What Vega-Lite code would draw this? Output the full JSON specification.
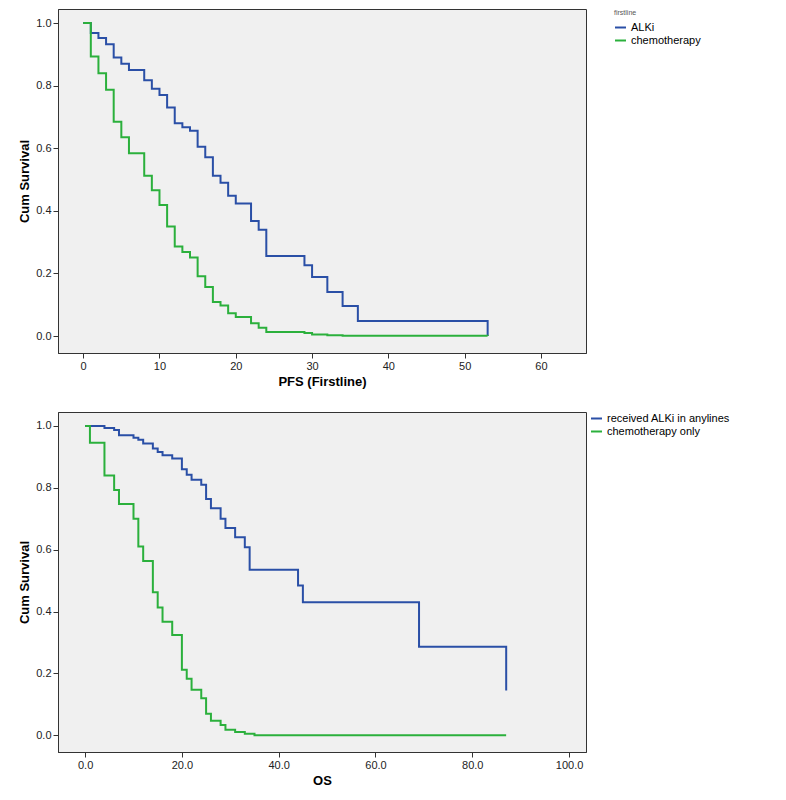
{
  "$schema": "https://vega.github.io/schema/vega-lite/v6.json",
  "padding": {"left": 18, "top": 8, "right": 0, "bottom": 0},
  "spacing": 22,
  "resolve": {"legend": {"color": "independent"}, "scale": {"color": "independent"}},
  "config": {
    "font": "Liberation Sans",
    "view": {"fill": "#f0f0f0", "stroke": "#333333"},
    "axis": {"grid": false, "labelFontSize": 11, "labelColor": "#222", "titleFontSize": 13, "titleFontWeight": "bold", "tickColor": "#333", "domainColor": "#333"},
    "legend": {"labelFontSize": 11, "symbolType": "stroke", "symbolStrokeWidth": 2, "symbolSize": 120, "rowPadding": 1, "padding": 0, "titleFontSize": 7, "titleFontWeight": "normal", "titleColor": "#555"}
  },
  "datasets": {
    "pfs": [
      {"t": 0, "s": 1.0, "g": "ALKi"}, {"t": 1, "s": 0.968, "g": "ALKi"}, {"t": 2, "s": 0.952, "g": "ALKi"}, {"t": 3, "s": 0.932, "g": "ALKi"}, {"t": 4, "s": 0.89, "g": "ALKi"}, {"t": 5, "s": 0.87, "g": "ALKi"}, {"t": 6, "s": 0.85, "g": "ALKi"}, {"t": 8, "s": 0.817, "g": "ALKi"}, {"t": 9, "s": 0.79, "g": "ALKi"}, {"t": 10, "s": 0.77, "g": "ALKi"}, {"t": 11, "s": 0.73, "g": "ALKi"}, {"t": 12, "s": 0.68, "g": "ALKi"}, {"t": 13, "s": 0.667, "g": "ALKi"}, {"t": 14, "s": 0.656, "g": "ALKi"}, {"t": 15, "s": 0.605, "g": "ALKi"}, {"t": 16, "s": 0.571, "g": "ALKi"}, {"t": 17, "s": 0.512, "g": "ALKi"}, {"t": 18, "s": 0.49, "g": "ALKi"}, {"t": 19, "s": 0.448, "g": "ALKi"}, {"t": 20, "s": 0.424, "g": "ALKi"}, {"t": 22, "s": 0.368, "g": "ALKi"}, {"t": 23, "s": 0.34, "g": "ALKi"}, {"t": 24, "s": 0.256, "g": "ALKi"}, {"t": 29, "s": 0.226, "g": "ALKi"}, {"t": 30, "s": 0.189, "g": "ALKi"}, {"t": 32, "s": 0.141, "g": "ALKi"}, {"t": 34, "s": 0.096, "g": "ALKi"}, {"t": 36, "s": 0.048, "g": "ALKi"}, {"t": 53, "s": 0.048, "g": "ALKi"}, {"t": 53.01, "s": 0.0, "g": "ALKi"},
      {"t": 0, "s": 1.0, "g": "chemotherapy"}, {"t": 1, "s": 0.893, "g": "chemotherapy"}, {"t": 2, "s": 0.84, "g": "chemotherapy"}, {"t": 3, "s": 0.787, "g": "chemotherapy"}, {"t": 4, "s": 0.685, "g": "chemotherapy"}, {"t": 5, "s": 0.635, "g": "chemotherapy"}, {"t": 6, "s": 0.584, "g": "chemotherapy"}, {"t": 8, "s": 0.512, "g": "chemotherapy"}, {"t": 9, "s": 0.466, "g": "chemotherapy"}, {"t": 10, "s": 0.419, "g": "chemotherapy"}, {"t": 11, "s": 0.35, "g": "chemotherapy"}, {"t": 12, "s": 0.286, "g": "chemotherapy"}, {"t": 13, "s": 0.269, "g": "chemotherapy"}, {"t": 14, "s": 0.251, "g": "chemotherapy"}, {"t": 15, "s": 0.191, "g": "chemotherapy"}, {"t": 16, "s": 0.157, "g": "chemotherapy"}, {"t": 17, "s": 0.109, "g": "chemotherapy"}, {"t": 18, "s": 0.098, "g": "chemotherapy"}, {"t": 19, "s": 0.073, "g": "chemotherapy"}, {"t": 20, "s": 0.061, "g": "chemotherapy"}, {"t": 22, "s": 0.041, "g": "chemotherapy"}, {"t": 23, "s": 0.027, "g": "chemotherapy"}, {"t": 24, "s": 0.013, "g": "chemotherapy"}, {"t": 29, "s": 0.01, "g": "chemotherapy"}, {"t": 30, "s": 0.005, "g": "chemotherapy"}, {"t": 32, "s": 0.003, "g": "chemotherapy"}, {"t": 34, "s": 0.001, "g": "chemotherapy"}, {"t": 53, "s": 0.0, "g": "chemotherapy"}
    ],
    "os": [
      {"t": 0, "s": 1.0, "g": "received ALKi in anylines"}, {"t": 4, "s": 0.993, "g": "received ALKi in anylines"}, {"t": 6, "s": 0.987, "g": "received ALKi in anylines"}, {"t": 7, "s": 0.97, "g": "received ALKi in anylines"}, {"t": 10, "s": 0.962, "g": "received ALKi in anylines"}, {"t": 11, "s": 0.955, "g": "received ALKi in anylines"}, {"t": 12, "s": 0.943, "g": "received ALKi in anylines"}, {"t": 14, "s": 0.927, "g": "received ALKi in anylines"}, {"t": 15, "s": 0.916, "g": "received ALKi in anylines"}, {"t": 16, "s": 0.905, "g": "received ALKi in anylines"}, {"t": 18, "s": 0.895, "g": "received ALKi in anylines"}, {"t": 20, "s": 0.86, "g": "received ALKi in anylines"}, {"t": 21, "s": 0.842, "g": "received ALKi in anylines"}, {"t": 22, "s": 0.826, "g": "received ALKi in anylines"}, {"t": 24, "s": 0.81, "g": "received ALKi in anylines"}, {"t": 25, "s": 0.764, "g": "received ALKi in anylines"}, {"t": 26, "s": 0.734, "g": "received ALKi in anylines"}, {"t": 28, "s": 0.7, "g": "received ALKi in anylines"}, {"t": 29, "s": 0.67, "g": "received ALKi in anylines"}, {"t": 31, "s": 0.64, "g": "received ALKi in anylines"}, {"t": 33, "s": 0.608, "g": "received ALKi in anylines"}, {"t": 34, "s": 0.535, "g": "received ALKi in anylines"}, {"t": 44, "s": 0.484, "g": "received ALKi in anylines"}, {"t": 45, "s": 0.43, "g": "received ALKi in anylines"}, {"t": 69, "s": 0.286, "g": "received ALKi in anylines"}, {"t": 87, "s": 0.286, "g": "received ALKi in anylines"}, {"t": 87.01, "s": 0.145, "g": "received ALKi in anylines"},
      {"t": 0, "s": 1.0, "g": "chemotherapy only"}, {"t": 1, "s": 0.946, "g": "chemotherapy only"}, {"t": 4, "s": 0.84, "g": "chemotherapy only"}, {"t": 6, "s": 0.793, "g": "chemotherapy only"}, {"t": 7, "s": 0.748, "g": "chemotherapy only"}, {"t": 10, "s": 0.7, "g": "chemotherapy only"}, {"t": 11, "s": 0.61, "g": "chemotherapy only"}, {"t": 12, "s": 0.563, "g": "chemotherapy only"}, {"t": 14, "s": 0.462, "g": "chemotherapy only"}, {"t": 15, "s": 0.413, "g": "chemotherapy only"}, {"t": 16, "s": 0.367, "g": "chemotherapy only"}, {"t": 18, "s": 0.324, "g": "chemotherapy only"}, {"t": 20, "s": 0.212, "g": "chemotherapy only"}, {"t": 21, "s": 0.183, "g": "chemotherapy only"}, {"t": 22, "s": 0.147, "g": "chemotherapy only"}, {"t": 24, "s": 0.12, "g": "chemotherapy only"}, {"t": 25, "s": 0.07, "g": "chemotherapy only"}, {"t": 26, "s": 0.047, "g": "chemotherapy only"}, {"t": 28, "s": 0.033, "g": "chemotherapy only"}, {"t": 29, "s": 0.018, "g": "chemotherapy only"}, {"t": 31, "s": 0.011, "g": "chemotherapy only"}, {"t": 33, "s": 0.005, "g": "chemotherapy only"}, {"t": 35, "s": 0.0, "g": "chemotherapy only"}, {"t": 87, "s": 0.0, "g": "chemotherapy only"}
    ]
  },
  "vconcat": [
    {
      "width": 528,
      "height": 344,
      "data": {"name": "pfs"},
      "mark": {"type": "line", "interpolate": "step-after", "strokeWidth": 2},
      "encoding": {
        "x": {"field": "t", "type": "quantitative", "title": "PFS   (Firstline)", "scale": {"domain": [-3.3, 65.9], "nice": false, "zero": false}, "axis": {"values": [0, 10, 20, 30, 40, 50, 60]}},
        "y": {"field": "s", "type": "quantitative", "title": "Cum Survival", "scale": {"domain": [-0.054, 1.045], "nice": false}, "axis": {"values": [0, 0.2, 0.4, 0.6, 0.8, 1.0], "format": ".1f"}},
        "color": {"field": "g", "type": "nominal", "title": "firstline", "scale": {"domain": ["ALKi", "chemotherapy"], "range": ["#2a4fa6", "#2bb03c"]}, "legend": {"orient": "right", "offset": 28}}
      }
    },
    {
      "width": 528,
      "height": 340,
      "data": {"name": "os"},
      "mark": {"type": "line", "interpolate": "step-after", "strokeWidth": 2},
      "encoding": {
        "x": {"field": "t", "type": "quantitative", "title": "OS", "scale": {"domain": [-5.6, 103.5], "nice": false, "zero": false}, "axis": {"values": [0, 20, 40, 60, 80, 100], "format": ".1f"}},
        "y": {"field": "s", "type": "quantitative", "title": "Cum Survival", "scale": {"domain": [-0.054, 1.045], "nice": false}, "axis": {"values": [0, 0.2, 0.4, 0.6, 0.8, 1.0], "format": ".1f"}},
        "color": {"field": "g", "type": "nominal", "title": null, "scale": {"domain": ["received ALKi in anylines", "chemotherapy only"], "range": ["#2a4fa6", "#2bb03c"]}, "legend": {"orient": "right", "offset": 4}}
      }
    }
  ]
}
